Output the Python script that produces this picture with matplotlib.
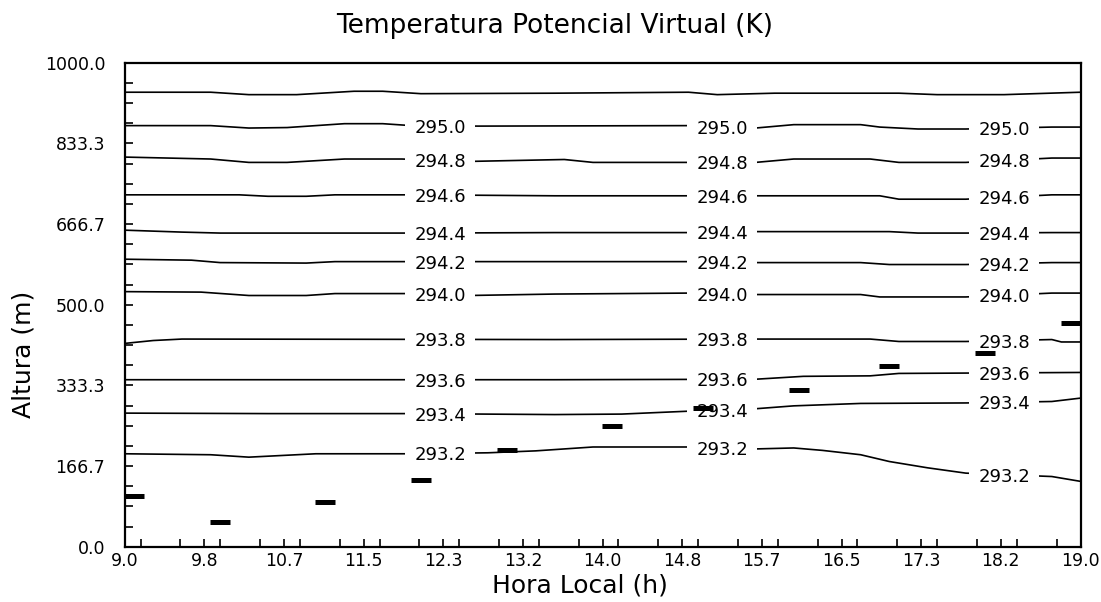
import numpy as np
import matplotlib
matplotlib.use("Agg")
import matplotlib.pyplot as plt
from matplotlib.ticker import FixedLocator, MultipleLocator

# isolines of virtual potential temperature (K): hours and heights (m)
LEVELS = [293.2, 293.4, 293.6, 293.8, 294.0, 294.2, 294.4, 294.6, 294.8, 295.0, 295.2]

HOURS = [
    [9.0, 9.9, 10.3, 10.6, 11.0, 12.0, 12.8, 13.3, 13.9, 14.9, 15.6, 16.0, 16.3, 16.7, 17.0, 17.4, 17.8, 18.7, 19.0],
    [9.0, 10.5, 12.0, 13.5, 14.2, 14.9, 15.6, 16.0, 16.7, 17.8, 18.7, 19.0],
    [9.0, 13.5, 15.6, 16.1, 16.8, 17.1, 19.0],
    [9.0, 9.3, 9.6, 13.5, 15.6, 16.8, 17.1, 17.8, 18.7, 18.8, 19.0],
    [9.0, 9.8, 10.3, 10.9, 11.2, 12.1, 12.6, 13.5, 14.9, 15.6, 16.7, 16.9, 17.8, 18.7, 19.0],
    [9.0, 9.7, 10.0, 10.9, 11.2, 12.1, 13.5, 14.9, 15.6, 16.7, 17.0, 17.8, 18.7, 19.0],
    [9.0, 9.6, 10.0, 12.1, 13.5, 14.9, 15.6, 17.0, 17.3, 17.8, 18.7, 19.0],
    [9.0, 10.2, 10.5, 10.9, 11.2, 12.1, 13.5, 14.9, 15.6, 16.9, 17.1, 17.8, 18.7, 19.0],
    [9.0, 9.9, 10.3, 10.7, 11.3, 11.9, 12.6, 13.6, 13.9, 14.9, 15.6, 16.0, 16.8, 17.1, 17.8, 18.7, 19.0],
    [9.0, 9.9, 10.3, 10.7, 11.3, 11.7, 12.0, 12.7, 14.9, 15.6, 16.0, 16.7, 16.9, 17.3, 17.8, 18.7, 19.0],
    [9.0, 9.9, 10.3, 10.8, 11.4, 11.7, 12.1, 13.5, 14.9, 15.2, 15.8, 17.1, 17.5, 18.2, 19.0],
]
HEIGHTS = [
    [192, 190, 185, 188, 192, 192, 194, 198, 206, 206, 202, 204, 199, 190, 176, 163, 152, 145, 135],
    [276, 275, 275, 273, 274, 280, 285, 291, 296, 297, 300, 307],
    [345, 345, 346, 352, 353, 358, 360],
    [420, 426, 429, 428, 429, 429, 424, 424, 428, 423, 423],
    [527, 526, 519, 519, 523, 523, 519, 522, 524, 521, 521, 516, 516, 524, 524],
    [594, 592, 587, 586, 589, 589, 589, 589, 587, 587, 583, 583, 587, 587],
    [654, 650, 648, 648, 649, 649, 651, 651, 648, 648, 649, 649],
    [727, 727, 724, 724, 727, 727, 725, 725, 725, 725, 718, 718, 727, 727],
    [805, 801, 794, 794, 801, 801, 796, 800, 794, 794, 794, 801, 801, 794, 794, 803, 803],
    [870, 870, 865, 866, 874, 874, 870, 869, 870, 865, 872, 872, 867, 863, 863, 867, 867],
    [939, 939, 934, 934, 941, 941, 936, 937, 939, 934, 937, 937, 934, 934, 939],
]
LABELED = [True] * 10 + [False]
LABEL_HOURS = [12.3, 15.25, 18.2]

# boundary layer top (black dashes)
BL_HOURS = [9.1, 10.0, 11.1, 12.1, 13.0, 14.1, 15.05, 16.05, 17.0, 18.0, 18.9]
BL_HEIGHTS = [104, 52, 93, 137, 200, 249, 287, 324, 374, 401, 463]

XTICKS = [9 + i * 10 / 12 for i in range(13)]
YTICKS = [i * 1000 / 6 for i in range(7)]

plt.rcParams['font.family'] = ['DejaVu Sans']

fig = plt.figure(figsize=(11.01, 6.02), dpi=100)
ax = fig.add_axes([124.6 / 1101, 1 - 546.7 / 602, (1080.5 - 124.6) / 1101, (546.7 - 62.7) / 602])

for lev, hx, hy, lab in zip(LEVELS, HOURS, HEIGHTS, LABELED):
    ax.plot(hx, hy, color='black', lw=1.2, zorder=2)
    if lab:
        for lx in LABEL_HOURS:
            ly = np.interp(lx, hx, hy)
            ax.text(lx, ly, f"{lev:.1f}", fontsize=13, ha='center', va='center_baseline',
                    zorder=3, bbox=dict(boxstyle='square,pad=0.5', fc='white', ec='none'))

ax.plot(BL_HOURS, BL_HEIGHTS, ls='none', marker='_', ms=14, mew=3.6, color='black', zorder=4)

ax.set_xlim(9, 19)
ax.set_ylim(0, 1000)
ax.xaxis.set_major_locator(FixedLocator(XTICKS))
ax.set_xticklabels([f"{v:.1f}" for v in XTICKS])
ax.xaxis.set_minor_locator(MultipleLocator(10 / 24))
ax.yaxis.set_major_locator(FixedLocator(YTICKS))
ax.set_yticklabels([f"{v:.1f}" for v in YTICKS])
ax.yaxis.set_minor_locator(MultipleLocator(1000 / 24))
ax.tick_params(which='both', direction='in', length=6, width=1.2, labelsize=12.5)
ax.tick_params(axis='y', which='major', pad=14)
ax.tick_params(axis='x', which='major', pad=4)
for s in ax.spines.values():
    s.set_linewidth(1.6)

fig.text(555 / 1101, 1 - 26 / 602, "Temperatura Potencial Virtual (K)", fontsize=19,
         ha='center', va='center')
fig.text(580 / 1101, 1 - 586 / 602, "Hora Local (h)", fontsize=18, ha='center', va='center')
fig.text(23 / 1101, 1 - 354 / 602, "Altura (m)", fontsize=18, rotation=90,
         ha='center', va='center')

fig.savefig("out.png", dpi=100)
